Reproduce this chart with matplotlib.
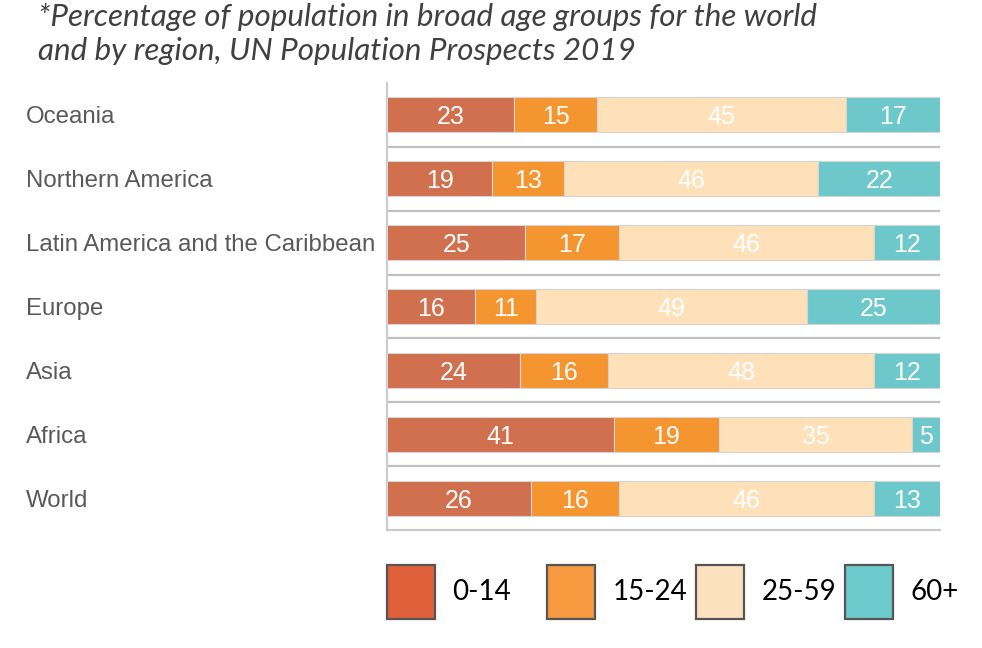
import matplotlib
matplotlib.use("Agg")
import matplotlib.pyplot as plt
from matplotlib.patches import Patch
import numpy as np

regions = ["Oceania", "Northern America", "Latin America and the Caribbean",
           "Europe", "Asia", "Africa", "World"]
age_groups = ["0-14", "15-24", "25-59", "60+"]
v_0_14 = [23, 19, 25, 16, 24, 41, 26]
v_15_24 = [15, 13, 17, 11, 16, 19, 16]
v_25_59 = [45, 46, 46, 49, 48, 35, 46]
v_60p = [17, 22, 12, 25, 12, 5, 13]
title = "*Percentage of population in broad age groups for the world\nand by region, UN Population Prospects 2019"

bar_colors = ["#d0704f", "#f59530", "#fee0b9", "#6dc8cb"]
legend_colors = ["#e0603b", "#f69a40", "#fde0bd", "#6ccacc"]

fig = plt.figure(figsize=(9.82, 6.48), dpi=100)
ax = fig.add_axes([387/982, 1-530/648, (940-387)/982, (530-83)/648])

series = [v_0_14, v_15_24, v_25_59, v_60p]
y = np.arange(len(regions))
left = np.zeros(len(regions))
for vals, col in zip(series, bar_colors):
    vals = np.array(vals, dtype=float)
    ax.barh(y, vals, left=left, height=0.55, color=col,
            edgecolor="#d4d4d4", linewidth=0.8, zorder=3)
    for yi, l, v in zip(y, left, vals):
        cx = (l + min(l + v, 100)) / 2
        ax.text(cx, yi, f"{int(v)}", ha="center", va="center_baseline",
                color="white", fontsize=18, family="Liberation Sans", zorder=4)
    left = left + vals

ax.set_xlim(0, 100)
ax.set_ylim(len(regions) - 0.5, -0.5)
for b in np.arange(0.5, len(regions) - 0.5, 1.0):
    ax.axhline(b, color="#c0c0c0", linewidth=1.6, zorder=1)

for s in ["top", "right"]:
    ax.spines[s].set_visible(False)
for s in ["left", "bottom"]:
    ax.spines[s].set_color("#cccccc")
    ax.spines[s].set_linewidth(1.6)

ax.set_xticks([])
ax.set_yticks(y)
ax.set_yticklabels(regions, fontsize=17.3, family="Liberation Sans", color="#595959", ha="left")
ax.tick_params(axis="y", length=0, pad=(387 - 26) * 72 / 100)

fig.text(38/982, 1 - 3/648, title, ha="left", va="top", fontsize=22.6,
         family="Lato", style="italic", color="#404040", linespacing=1.25)

legend_x = [387, 547, 696, 845]
for lx, lab, c in zip(legend_x, age_groups, legend_colors):
    h = Patch(facecolor=c, edgecolor="#555555", linewidth=1.6)
    fig.legend([h], [lab], loc="center left",
               bbox_to_anchor=(lx/982, 1 - 592/648), frameon=False,
               prop={"family": "Lato", "size": 20}, handlelength=1.73,
               handleheight=2.56, handletextpad=0.62,
               borderaxespad=0, borderpad=0)

fig.savefig("out.png", dpi=100, facecolor="white")
